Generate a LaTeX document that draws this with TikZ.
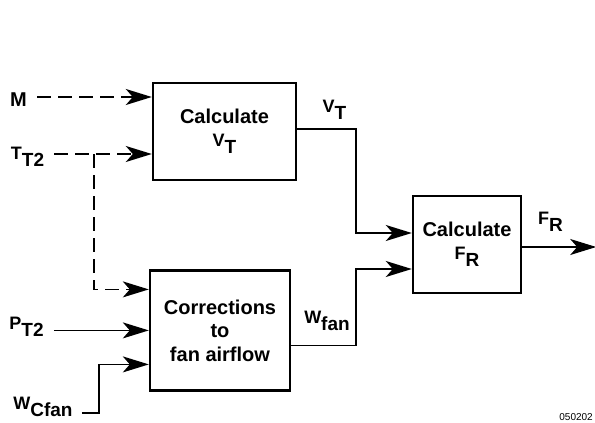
\documentclass[tikz,border=0pt]{standalone}
\usepackage{fontspec}
\setmainfont{Liberation Sans}
\usepackage{tikz}
\usetikzlibrary{arrows.meta, positioning}

\newcommand{\sbs}[2]{{\fontsize{18}{20}\selectfont #1}\raisebox{-7pt}{\fontsize{19}{20}\selectfont #2}}

\begin{document}
\begin{tikzpicture}[
  x=1pt, y=-1pt,
  font=\bfseries\fontsize{20}{23}\selectfont,
  blk/.style  = {draw, line width=2.4pt, align=center, inner sep=0pt},
  lbl/.style  = {inner sep=0pt},
  arr/.style  = {-{Stealth[length=26pt, width=16pt, inset=7pt]}, line width=1.7pt},
  dsh/.style  = {dash pattern=on 14pt off 7pt},
  gap/.style  = {shorten <=10pt}
]
\useasboundingbox (0,0) rectangle (595,423);

\node[blk, minimum width=143pt, minimum height=97pt] (vt) at (224.5,131.5)
  {Calculate\\\sbs{V}{T}};
\node[blk, minimum width=140pt, minimum height=120pt, below=88pt of vt, xshift=-4.5pt] (corr)
  {Corrections\\to\\[1pt]fan airflow};
\node[blk, minimum width=108pt, minimum height=97pt] (fr) at (467,244.5)
  {Calculate\\\sbs{F}{R}};

% input labels
\node[lbl] (m)   at (18.5,99.5)  {M};
\node[lbl] (tt2) at (27.5,157)   {\sbs{T}{T2}};
\node[lbl] (pt2) at (26.5,326.5) {\sbs{P}{T2}};
\node[lbl] (wc)  at (43,407)     {\sbs{W}{Cfan}};

% output labels
\node[lbl] (vtl) at (334.5,109.5) {\sbs{V}{T}};
\node[lbl] (wfl) at (327,321)     {\sbs{W}{fan}};
\node[lbl] (frl) at (550.5,221.5) {\sbs{F}{R}};

\node[font=\fontsize{10}{10}\selectfont, anchor=south east, inner sep=0pt] (figid) at (593,421) {050202};

\coordinate (vtin1) at ([yshift=34.5pt]vt.west);
\coordinate (vtin2) at ([yshift=-22.5pt]vt.west);
\coordinate (cin1)  at ([yshift=41pt]corr.west);
\coordinate (cin3)  at ([yshift=-34pt]corr.west);
\coordinate (fin1)  at ([yshift=11.5pt]fr.west);
\coordinate (fin2)  at ([yshift=-24.5pt]fr.west);
\coordinate (br)    at ([xshift=-58pt]vtin2);
\coordinate (frout) at ([xshift=74pt,yshift=-2.5pt]fr.east);

\draw[arr, dsh, gap] (m.east |- vtin1) -- (vtin1);
\draw[arr, dsh, gap] (tt2.east |- vtin2) -- (vtin2);
\draw[arr, dsh] (br) |- (cin1);
\draw[arr, gap] (pt2.east |- corr.west) -- (corr.west);
\draw[arr] ([xshift=9pt,yshift=-6pt]wc.east) -| ([xshift=-50pt]cin3) -- (cin3);

\draw[arr] ([yshift=2.5pt]vt.east) -| ([xshift=-56pt]fin1) -- (fin1);
\draw[arr] ([yshift=-15pt]corr.east) -| ([xshift=-56pt]fin2) -- (fin2);
\draw[arr] ([yshift=-2.5pt]fr.east) -- (frout);
\end{tikzpicture}
\end{document}
